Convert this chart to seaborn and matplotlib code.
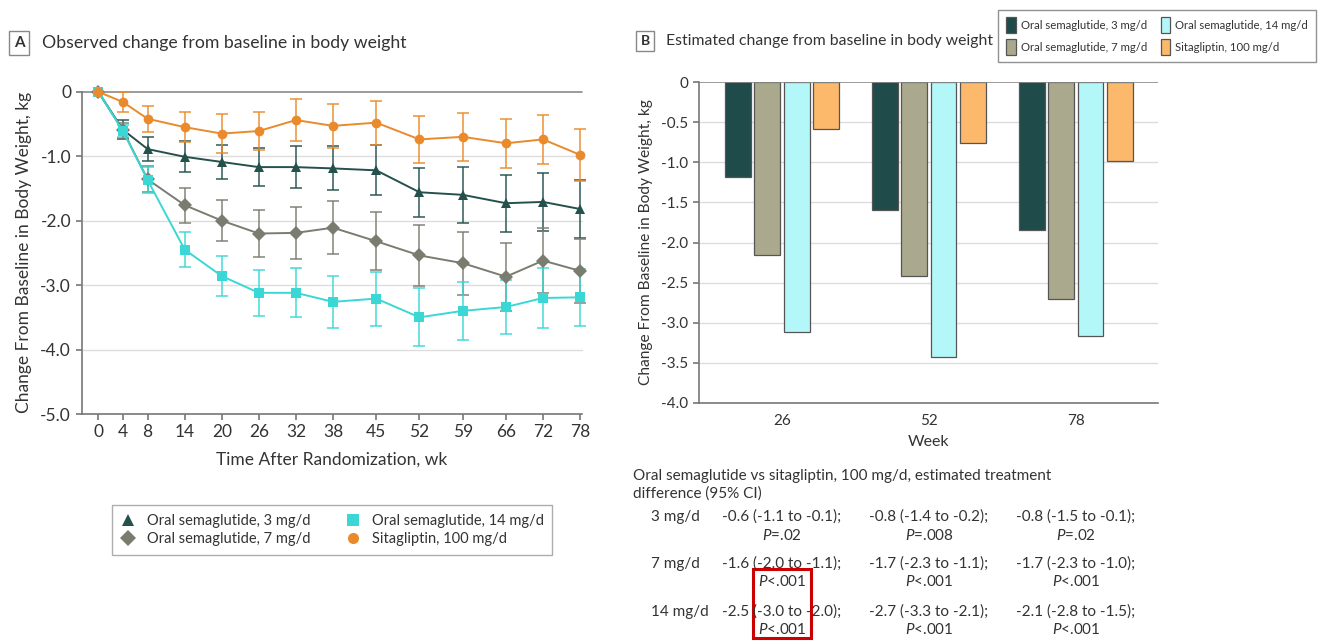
import numpy as np
import pandas as pd
import seaborn as sns
import matplotlib.pyplot as plt
from matplotlib.lines import Line2D
from matplotlib.patches import Patch, Rectangle

# ---- data ----
weeks = [0, 4, 8, 14, 20, 26, 32, 38, 45, 52, 59, 66, 72, 78]
groups = ["Oral semaglutide, 3 mg/d", "Oral semaglutide, 7 mg/d",
          "Oral semaglutide, 14 mg/d", "Sitagliptin, 100 mg/d"]

sema3 = [0, -0.59, -0.89, -1.01, -1.09, -1.17, -1.17, -1.19, -1.22, -1.56, -1.60, -1.73, -1.71, -1.82]
sema7 = [0, -0.60, -1.36, -1.76, -2.00, -2.20, -2.19, -2.11, -2.32, -2.54, -2.66, -2.87, -2.62, -2.78]
sema14 = [0, -0.61, -1.37, -2.45, -2.86, -3.12, -3.12, -3.26, -3.21, -3.50, -3.40, -3.34, -3.20, -3.19]
sita = [0, -0.16, -0.42, -0.55, -0.65, -0.61, -0.44, -0.53, -0.48, -0.74, -0.70, -0.80, -0.74, -0.98]

err3 = [0, 0.15, 0.18, 0.24, 0.27, 0.30, 0.32, 0.34, 0.39, 0.38, 0.43, 0.44, 0.45, 0.45]
err7 = [0, 0.12, 0.20, 0.27, 0.32, 0.37, 0.40, 0.41, 0.45, 0.47, 0.49, 0.53, 0.50, 0.50]
err14 = [0, 0.10, 0.20, 0.27, 0.31, 0.36, 0.38, 0.40, 0.42, 0.45, 0.45, 0.42, 0.46, 0.44]
err_sita = [0, 0.15, 0.20, 0.23, 0.30, 0.29, 0.32, 0.34, 0.34, 0.36, 0.37, 0.38, 0.38, 0.40]

bar_weeks = ["26", "52", "78"]
bar3 = [-1.18, -1.59, -1.84]
bar7 = [-2.16, -2.42, -2.70]
bar14 = [-3.11, -3.43, -3.16]
bar_sita = [-0.59, -0.76, -0.99]

dose_rows = ["3 mg/d", "7 mg/d", "14 mg/d"]
diff_text = [["-0.6 (-1.1 to -0.1);", "-0.8 (-1.4 to -0.2);", "-0.8 (-1.5 to -0.1);"],
             ["-1.6 (-2.0 to -1.1);", "-1.7 (-2.3 to -1.1);", "-1.7 (-2.3 to -1.0);"],
             ["-2.5 (-3.0 to -2.0);", "-2.7 (-3.3 to -2.1);", "-2.1 (-2.8 to -1.5);"]]
p_text = [["=.02", "=.008", "=.02"],
          ["<.001", "<.001", "<.001"],
          ["<.001", "<.001", "<.001"]]

line_colors = ["#24504e", "#7b7c70", "#3ad7d5", "#e98a2c"]
bar_colors = ["#1f4b4a", "#aaa98e", "#b4f7f8", "#fcb86b"]
markers = ["^", "D", "s", "o"]

sns.set_style("white")
plt.rcParams["font.family"] = ["Lato", "DejaVu Sans"]
plt.rcParams["mathtext.fontset"] = "custom"
plt.rcParams["mathtext.it"] = "Lato:italic"
plt.rcParams["mathtext.rm"] = "Lato"

W, H = 1318, 642
fig = plt.figure(figsize=(W / 100, H / 100), dpi=100)


def fx(x):
    return x / W


def fy(y):
    return 1 - y / H


text_col = "#333333"

# ---- panel A ----
axA = fig.add_axes([fx(81.5), fy(414), fx(582 - 81.5), (414 - 91.7) / H])
df_a = pd.DataFrame({"week": weeks * 4,
                     "change": sema3 + sema7 + sema14 + sita,
                     "group": np.repeat(groups, len(weeks))})
for v in [-1, -2, -3, -4]:
    axA.axhline(v, color="#dddddd", lw=1, zorder=0)
axA.axhline(0, color="#8a8a8a", lw=1.2, zorder=0)
errs = [err3, err7, err14, err_sita]
means = [sema3, sema7, sema14, sita]
for i, g in enumerate(groups):
    axA.errorbar(weeks, means[i], yerr=errs[i], fmt="none", ecolor=line_colors[i],
                 alpha=0.8, elinewidth=1.3, capsize=4.5, capthick=1.3, zorder=2)
sns.lineplot(data=df_a, x="week", y="change", hue="group", style="group",
             palette=dict(zip(groups, line_colors)), markers=dict(zip(groups, markers)),
             dashes=False, markersize=7, markeredgewidth=0, lw=1.4, legend=False,
             ax=axA, zorder=3)
axA.set_xlim(-2.7, 78.3)
axA.set_ylim(-5.0, 0)
axA.set_xticks(weeks)
axA.set_yticks([0, -1, -2, -3, -4, -5])
axA.set_yticklabels(["0", "-1.0", "-2.0", "-3.0", "-4.0", "-5.0"])
for sp in ["top", "right"]:
    axA.spines[sp].set_visible(False)
for sp in ["left", "bottom"]:
    axA.spines[sp].set_color("#777777")
    axA.spines[sp].set_linewidth(1.2)
axA.tick_params(axis="both", labelsize=12.5, colors="#777777", labelcolor=text_col,
                length=4, width=1.2, direction="out", left=True, bottom=True)
axA.set_xlabel("Time After Randomization, wk", fontsize=12.5, color=text_col, labelpad=8)
axA.set_ylabel("Change From Baseline in Body Weight, kg", fontsize=12.5, color=text_col, labelpad=6)
for c in axA.get_children():
    if isinstance(c, Line2D):
        c.set_clip_on(False)

handles_a = [Line2D([], [], ls="none", marker=markers[i], color=line_colors[i],
                    markersize=8, markeredgewidth=0) for i in range(4)]
legA = fig.legend(handles_a, groups, ncol=2, loc="center",
                  bbox_to_anchor=(fx(332), fy(530)), frameon=True, fancybox=False,
                  fontsize=10.5, handlelength=1.0, handletextpad=0.8,
                  columnspacing=2.4, labelspacing=0.3, borderpad=0.6)
legA.get_frame().set_edgecolor("#999999")
legA.get_frame().set_linewidth(1)
for t in legA.get_texts():
    t.set_color(text_col)

# ---- panel B ----
axB = fig.add_axes([fx(699), fy(403), fx(1158 - 699), (403 - 82) / H])
df_b = pd.DataFrame({"week": bar_weeks * 4,
                     "change": bar3 + bar7 + bar14 + bar_sita,
                     "group": np.repeat(groups, len(bar_weeks))})
for v in np.arange(-0.5, -4.0, -0.5):
    axB.axhline(v, color="#dddddd", lw=1, zorder=0)
sns.barplot(data=df_b, x="week", y="change", hue="group", hue_order=groups,
            palette=dict(zip(groups, bar_colors)), edgecolor="#555555", linewidth=0.9,
            saturation=1, gap=0.12, width=0.8, legend=False, ax=axB, zorder=2)
axB.axhline(0, color="#8a8a8a", lw=1.2, zorder=3)
axB.set_xlim(-0.565, 2.56)
axB.set_ylim(-4.0, 0)
axB.set_yticks(np.arange(0, -4.01, -0.5))
axB.set_yticklabels(["0"] + [f"{v:.1f}" for v in np.arange(-0.5, -4.01, -0.5)])
for sp in ["top", "right"]:
    axB.spines[sp].set_visible(False)
for sp in ["left", "bottom"]:
    axB.spines[sp].set_color("#777777")
    axB.spines[sp].set_linewidth(1.2)
axB.tick_params(axis="y", labelsize=11, colors="#777777", labelcolor=text_col,
                length=4, width=1.2, left=True)
axB.tick_params(axis="x", labelsize=11, labelcolor=text_col, length=0, pad=8)
axB.set_xlabel("Week", fontsize=11.5, color=text_col, labelpad=5)
axB.set_ylabel("Change From Baseline in Body Weight, kg", fontsize=11.2, color=text_col, labelpad=6)

handles_b = [Patch(facecolor=bar_colors[i], edgecolor="#555555", lw=0.9) for i in range(4)]
legB = fig.legend(handles_b, groups, ncol=2, loc="center",
                  bbox_to_anchor=(fx(1157), fy(36)), frameon=True, fancybox=False,
                  prop={"size": 8.2},
                  handlelength=0.85, handleheight=1.7, handletextpad=0.45,
                  columnspacing=1.2, labelspacing=0.55, borderpad=0.7)
legB.get_frame().set_edgecolor("#777777")
legB.get_frame().set_linewidth(1)
for t in legB.get_texts():
    t.set_color(text_col)

# ---- panel titles ----
box = dict(boxstyle="square,pad=0.3", fc="white", ec="#888888", lw=1)
fig.text(fx(19), fy(43), "A", fontsize=11, fontweight="bold", color=text_col,
         ha="center", va="center", bbox=box)
fig.text(fx(42), fy(43), "Observed change from baseline in body weight",
         fontsize=12.7, color=text_col, ha="left", va="center")
fig.text(fx(645), fy(41), "B", fontsize=10, fontweight="bold", color=text_col,
         ha="center", va="center", bbox=box)
fig.text(fx(666), fy(41), "Estimated change from baseline in body weight",
         fontsize=11.3, color=text_col, ha="left", va="center")

# ---- treatment difference table ----
fig.text(fx(633), fy(476), "Oral semaglutide vs sitagliptin, 100 mg/d, estimated treatment",
         fontsize=11, color=text_col, ha="left", va="center")
fig.text(fx(633), fy(494), "difference (95% CI)", fontsize=11, color=text_col,
         ha="left", va="center")
col_x = [782, 929, 1076]
row_y = [517, 564, 612]
for r, dose in enumerate(dose_rows):
    fig.text(fx(651), fy(row_y[r]), dose, fontsize=11, color=text_col, ha="left", va="center")
    for c in range(3):
        fig.text(fx(col_x[c]), fy(row_y[r]), diff_text[r][c], fontsize=11,
                 color=text_col, ha="center", va="center")
        fig.text(fx(col_x[c]), fy(row_y[r] + 18), r"$\mathit{P}$" + p_text[r][c],
                 fontsize=11, color=text_col, ha="center", va="center")

fig.patches.append(Rectangle((fx(753), fy(638)), fx(811 - 753), (638 - 569) / H,
                             transform=fig.transFigure, fill=False,
                             edgecolor="#cc0000", lw=2.2))

fig.savefig("out.png", dpi=100, facecolor="white")
